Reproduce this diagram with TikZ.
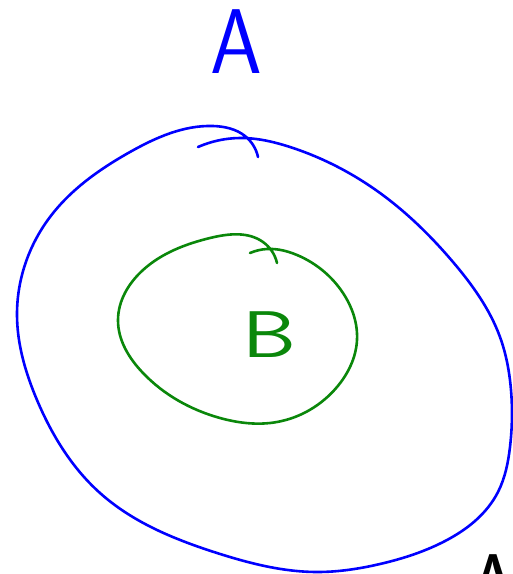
\documentclass[tikz,border=0pt]{standalone}
\usetikzlibrary{hobby}
\begin{document}
\begin{tikzpicture}[x=1pt,y=-1pt,
  bluestroke/.style={draw=blue, line width=2.6pt, line cap=round, line join=round},
  greenstroke/.style={draw={rgb,255:red,10;green,135;blue,10}, line width=2.6pt, line cap=round, line join=round},
  letter/.style={inner sep=0pt, outer sep=0pt, font=\sffamily\fontsize{92}{92}\selectfont, xscale=0.9}]
\useasboundingbox (0,0) rectangle (513,574);
\clip (0,0) rectangle (513,574);
% outer blue loop
\draw[bluestroke, use Hobby shortcut]
 (198,147) .. (240,138) .. (290,147) .. (380,193) .. (453,262) .. (500,337)
 .. (511,390) .. (510,447) .. (498,492) .. (475,521) .. (447,540) .. (380,564) .. (317,572) .. (217,553)
 .. (100,493) .. (37,400) .. (17,315) .. (50,217) .. (130,152) .. (213,126)
 .. (245,136) .. (258,157);
% inner green loop
\draw[greenstroke, use Hobby shortcut]
 (250,253) .. (267,249) .. (297,255) .. (343,293) .. (357,340) .. (337,387)
 .. (277,422) .. (220,418) .. (143,373) .. (118,320) .. (143,270) .. (210,238)
 .. (263,242) .. (277,263);
% labels
\node[letter, text=blue] (labA) at (236,42) {A};
\node[letter, text={rgb,255:red,10;green,135;blue,10}, font=\sffamily\fontsize{66}{66}\selectfont, xscale=1.45] (labB) at (269,335) {B};
\node[letter, text=black, anchor=north] (labA2) at (493,555) {A};
\end{tikzpicture}
\end{document}
